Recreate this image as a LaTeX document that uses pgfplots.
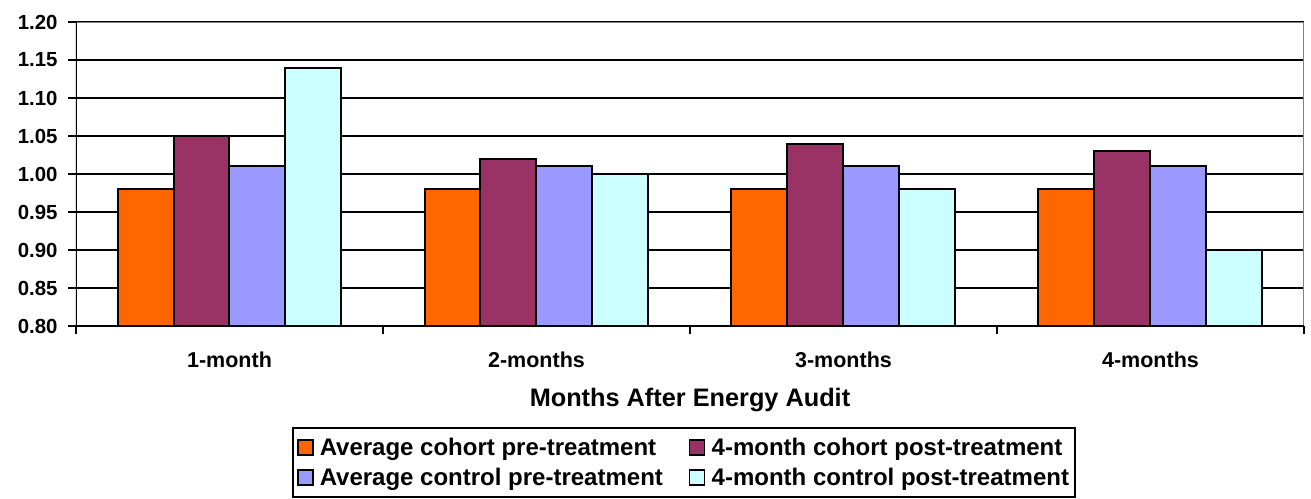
\documentclass[border=0pt]{standalone}
\usepackage{pgfplots}
\pgfplotsset{compat=1.18}
\usepackage{pgfplotstable}
\usepackage{fontspec}
\setmainfont{Liberation Sans}
\definecolor{cOr}{HTML}{FF6600}
\definecolor{cMa}{HTML}{993366}
\definecolor{cPe}{HTML}{9999FF}
\definecolor{cCy}{HTML}{CCFFFF}
\definecolor{cBd}{HTML}{808080}
\pgfplotstableread{
x a b c d
0 0.98 1.05 1.01 1.14
1 0.98 1.02 1.01 1.00
2 0.98 1.04 1.01 0.98
3 0.98 1.03 1.01 0.90
}\data
\begin{document}
\begin{tikzpicture}
\begin{axis}[
  scale only axis, width=1228pt, height=304pt,
  xmin=-0.5, xmax=3.5, ymin=0.8, ymax=1.2,
  ybar, bar width=0.1824,
  axis line style={draw=none},
  xtick={-0.5,0.5,1.5,2.5,3.5}, xticklabels={},
  extra x ticks={0,1,2,3},
  extra x tick labels={1-month,2-months,3-months,4-months},
  extra x tick style={major tick length=0pt, grid=none,
    xticklabel style={anchor=center, yshift=-34pt, font=\fontsize{21.5}{25}\selectfont\bfseries}},
  ytick={0.80,0.85,0.90,0.95,1.00,1.05,1.10,1.15,1.20},
  yticklabel style={/pgf/number format/fixed, /pgf/number format/fixed zerofill, /pgf/number format/precision=2, /pgf/number format/assume math mode=true,
    font=\fontsize{20.4}{24}\selectfont\bfseries, anchor=east, xshift=-7pt},
  tick align=outside, xtick pos=bottom, ytick pos=left,
  major tick length=8pt,
  tick style={black, line width=2pt},
  ymajorgrids, grid style={black, line width=2pt},
  xlabel={Months After Energy Audit},
  xlabel style={at={(axis description cs:0.5,-0.243)}, anchor=center, font=\fontsize{25.3}{30}\selectfont\bfseries},
  legend columns=2,
  legend style={at={(0.1759,-0.3322)}, anchor=north west, draw=black, line width=2pt,
    font=\fontsize{24}{28}\selectfont\bfseries, inner xsep=4pt, inner ysep=8pt,
    /tikz/every even column/.append style={column sep=24pt},
    row sep=7pt, cells={anchor=west}},
  legend image code/.code={\draw[#1,/tikz/.cd,line width=1.5pt] (0pt,-7.5pt) rectangle (15pt,7.5pt);\path (19pt,0pt);},
]
\addplot[fill=cOr, draw=black, line width=2pt, bar shift=-0.2736] table[x=x,y=a]{\data};
\addplot[fill=cMa, draw=black, line width=2pt, bar shift=-0.0912] table[x=x,y=b]{\data};
\addplot[fill=cPe, draw=black, line width=2pt, bar shift=0.0912] table[x=x,y=c]{\data};
\addplot[fill=cCy, draw=black, line width=2pt, bar shift=0.2736] table[x=x,y=d]{\data};
\legend{Average cohort pre-treatment,4-month cohort post-treatment,Average control pre-treatment,4-month control post-treatment}
\draw[cBd, line width=2pt] (rel axis cs:0,1) -- (rel axis cs:1,1) -- (rel axis cs:1,0);
\draw[black, line width=2pt] (rel axis cs:0,1) -- (rel axis cs:0,0) -- (rel axis cs:1,0);
\end{axis}
\pgfresetboundingbox
\path (-76pt,-172pt) rectangle (1235pt,326pt);
\end{tikzpicture}
\end{document}
